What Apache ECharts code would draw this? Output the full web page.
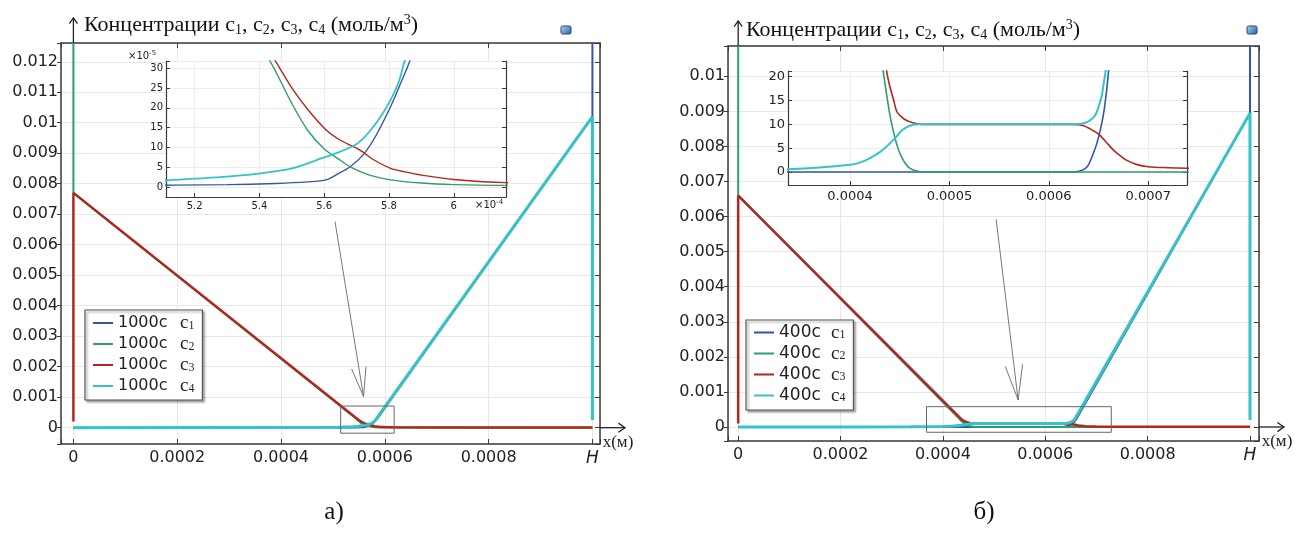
<!DOCTYPE html>
<html><head><meta charset="utf-8">
<script src="https://cdn.jsdelivr.net/npm/echarts@6/dist/echarts.min.js"></script>
<style>html,body{margin:0;padding:0;background:#fff}#c{width:1296px;height:539px}</style>
</head><body><div id="c"></div>
<script>
// ---------------- data (x in m, concentration in mol/m^3) ----------------
// panel a) t = 1000 s
const leftC1 = [[0,0],[0.0005,0.000004],[0.00053,0.000006],[0.000545,0.000009],[0.000555,0.000013],[0.0005606,0.000018],[0.000564,0.000032],[0.000568,0.000051],[0.000572,0.000081],[0.000576,0.00013],[0.0005805,0.000203],[0.0005835,0.00026],[0.0005865,0.00032],[0.001,0.0102],[0.001,0.05]];
const leftC2 = [[0,0.05],[0,0.0077],[0.0005431,0.00032],[0.00055,0.000211],[0.000555,0.000142],[0.00056,0.000096],[0.000564,0.000073],[0.000568,0.000051],[0.000574,0.00003],[0.0005805,0.000018],[0.00059,0.00001],[0.0006,0.000006],[0.000616,0.000004],[0.0007,0.000002],[0.001,0]];
const leftC3 = [[0,0.0002],[0,0.0077],[0.0005448,0.00032],[0.00055,0.00025],[0.000555,0.000195],[0.0005606,0.000144],[0.000565,0.000118],[0.0005695,0.0001],[0.000572,0.000088],[0.000575,0.00007],[0.0005805,0.000047],[0.000585,0.000038],[0.00059,0.00003],[0.0006,0.000019],[0.000616,0.000011],[0.0007,0.000005],[0.001,0.000002]];
const leftC4 = [[0,0],[0.0003,0.000007],[0.000511,0.000017],[0.00052,0.000021],[0.00053,0.000026],[0.000539,0.000033],[0.00055,0.000047],[0.0005606,0.0000765],[0.000564,0.000086],[0.0005695,0.000106],[0.000572,0.000122],[0.000575,0.00015],[0.000578,0.000185],[0.0005805,0.00022],[0.000583,0.000265],[0.0005849,0.00032],[0.001,0.0102],[0.001,0.00025]];
// panel б) t = 400 s
const rightC1 = [[0,0],[0.000625,0],[0.000633,0.000003],[0.000639,0.000012],[0.000644,0.000035],[0.000648,0.000058],[0.000652,0.00009],[0.000656,0.000135],[0.00066,0.00021],[0.001,0.00895],[0.001,0.05]];
const rightC2 = [[0,0.05],[0,0.0066],[0.0004335,0.00021],[0.000437,0.00016],[0.000441,0.00011],[0.0004453,0.000071],[0.00045,0.00004],[0.000455,0.00002],[0.00046,0.000008],[0.000467,0.000002],[0.000475,0],[0.001,0]];
const rightC3 = [[0,0.0001],[0,0.0066],[0.000437,0.00021],[0.00044,0.00018],[0.000444,0.00015],[0.000447,0.000127],[0.000452,0.000115],[0.000457,0.000108],[0.000464,0.000103],[0.000472,0.0001],[0.000625,0.0001],[0.000635,0.000097],[0.000642,0.00009],[0.000647,0.000084],[0.000651,0.000078],[0.000658,0.000062],[0.000665,0.000046],[0.000672,0.000034],[0.000678,0.000025],[0.000688,0.000016],[0.0007,0.000011],[0.00072,0.000009],[0.00074,0.000008],[0.0008,0.000006],[0.001,0.000004]];
const rightC4 = [[0,0],[0.0002,0.000002],[0.000337,0.000006],[0.0004,0.000015],[0.000415,0.000024],[0.000425,0.000035],[0.000435,0.00005],[0.0004453,0.000071],[0.000452,0.000087],[0.00046,0.000097],[0.00047,0.0001],[0.000628,0.0001],[0.000636,0.000103],[0.000642,0.000109],[0.000647,0.00012],[0.00065,0.000137],[0.000653,0.000158],[0.0006555,0.00019],[0.000657,0.00021],[0.001,0.00895],[0.001,0.0002]];

const seriesKeys = ['c1','c2','c3','c4'];
const legendPrefix = {L:'1000c', R:'400c'};
const mainXTickLabels = ['0','0.0002','0.0004','0.0006','0.0008','H'];
// annotation boxes / pointers (data coordinates of main plots)
const leftZoomBox = [[0.000515,0.00071],[0.000618,-0.00018]];
const leftPointer = [[0.000504,0.00676],[0.000559,0.00102]];
const rightZoomBox = [[0.000368,0.00058],[0.000729,-0.00015]];
const rightPointer = [[0.000504,0.00592],[0.000547,0.00077]];

// axis ranges
const LX=[-0.0000239,0.0010146], LY=[-0.000535,0.012615];
const LIX=[0.00051117,0.00061611], LIY=[-0.00002525,0.000318];
const RX=[-0.0000199,0.0010176], RY=[-0.000399,0.010864];
const RIX=[0.0003376,0.000739], RIY=[-0.0000273,0.000212];

const COL = {c1:'#3356a8', c2:'#2f9e6b', c3:'#b3261e', c4:'#35c3c8'};
const FRAME = '#3a3a3a', GRIDC = '#e8e8e8', TXT = '#222';

function onGrid(v, step){ const k=Math.round(v/step); return Math.abs(v-k*step) < step*1e-3 ? k : null; }
const fmtMainX = v => { const k=onGrid(v,0.0002); return (k===null||k<0||k>5)?'':(k===5?'{h|H}':mainXTickLabels[k]); };
const fmtMainY = v => { const k=onGrid(v,0.001); return (k===null||k<0)?'':String(+(k*0.001).toFixed(3)); };
const fmtLIX = v => { const k=onGrid(v,0.00002); return k===null?'':String(+(k*0.2).toFixed(1)); };
const fmtIY = v => { const k=onGrid(v,0.00005); return (k===null||k<0)?'':String(k*5); };
const fmtRIX = v => { const k=onGrid(v,0.0001); return k===null?'':String(+(k*0.0001).toFixed(4)); };

function xAx(grid, r, pos, labels, fmt, fs, opts){
  return Object.assign({type:'value', gridIndex:grid, min:r[0], max:r[1], position:pos, splitNumber:5,
    axisLine:{show:true,onZero:false,lineStyle:{color:FRAME,width:1.5}},
    axisTick:{show:true,inside:true,length:5,lineStyle:{color:FRAME,width:1}},
    axisLabel:{show:labels, margin:6, fontFamily:'DejaVu Sans', fontSize:fs, color:TXT, formatter:fmt,
      rich:{h:{fontFamily:'DejaVu Sans',fontStyle:'italic',fontSize:fs+1,color:TXT}}},
    splitLine:{show:labels, lineStyle:{color:GRIDC,width:1}}}, opts||{});
}
function yAx(grid, r, pos, labels, fmt, fs, split, opts){
  return Object.assign({type:'value', gridIndex:grid, min:r[0], max:r[1], position:pos, splitNumber:split,
    axisLine:{show:true,onZero:false,lineStyle:{color:FRAME,width:1.5}},
    axisTick:{show:true,inside:true,length:5,lineStyle:{color:FRAME,width:1}},
    axisLabel:{show:labels, margin:3, fontFamily:'DejaVu Sans', fontSize:fs, color:TXT, formatter:fmt},
    splitLine:{show:labels, lineStyle:{color:GRIDC,width:1}}}, opts||{});
}
const insetLine = {show:true,onZero:false,lineStyle:{color:FRAME,width:1.2}};
const insetTick = {show:true,inside:true,length:4,lineStyle:{color:FRAME}};
const insetSplit = {show:true,lineStyle:{color:'#ececec'}};
const xAxis = [
  xAx(0, LX, 'bottom', true, fmtMainX, 16),
  xAx(0, LX, 'top', false, null, 16),
  xAx(1, LIX, 'bottom', true, fmtLIX, 10, {z:6, axisLine:insetLine, axisTick:insetTick, axisLabel:{margin:4,fontFamily:'DejaVu Sans',fontSize:10,color:TXT,formatter:fmtLIX}, splitLine:insetSplit}),
  xAx(2, RX, 'bottom', true, fmtMainX, 16),
  xAx(2, RX, 'top', false, null, 16),
  xAx(3, RIX, 'bottom', true, fmtRIX, 13, {z:6, axisLine:insetLine, axisTick:insetTick, axisLabel:{margin:5,fontFamily:'DejaVu Sans',fontSize:13,color:TXT,formatter:fmtRIX}, splitLine:insetSplit})
];
const yAxis = [
  yAx(0, LY, 'left', true, fmtMainY, 16, 13, {axisTick:{show:true,inside:false,length:4,lineStyle:{color:FRAME}}}),
  yAx(0, LY, 'right', false, null, 16, 13),
  yAx(1, LIY, 'left', true, fmtIY, 10, 6, {z:6, axisLine:insetLine, axisTick:insetTick, axisLabel:{margin:3,fontFamily:'DejaVu Sans',fontSize:10,color:TXT,formatter:fmtIY}, splitLine:insetSplit}),
  yAx(1, LIY, 'right', false, null, 10, 6, {z:6, axisLine:insetLine, axisTick:insetTick}),
  yAx(2, RY, 'left', true, fmtMainY, 16, 11, {axisTick:{show:true,inside:false,length:4,lineStyle:{color:FRAME}}}),
  yAx(2, RY, 'right', false, null, 16, 11),
  yAx(3, RIY, 'left', true, fmtIY, 13, 5, {z:6, axisLine:insetLine, axisTick:insetTick, axisLabel:{margin:3,fontFamily:'DejaVu Sans',fontSize:13,color:TXT,formatter:fmtIY}, splitLine:insetSplit}),
  yAx(3, RIY, 'right', false, null, 13, 5, {z:6, axisLine:insetLine, axisTick:insetTick})
];

const series = [];
function addSet(prefix, sets, xi, yi, widths, z, smooth){
  sets.forEach((d,i)=>{
    series.push({type:'line', name:prefix+(i+1), data:d, xAxisIndex:xi, yAxisIndex:yi, symbol:'none', showSymbol:false,
      silent:true, animation:false, z:z, clip:true, smooth:smooth,
      lineStyle:{color:COL[seriesKeys[i]], width:widths[i]}, itemStyle:{color:COL[seriesKeys[i]]}});
  });
}
const leftSets=[leftC1,leftC2,leftC3,leftC4], rightSets=[rightC1,rightC2,rightC3,rightC4];
addSet('L', leftSets, 0, 0, [2,2,2.5,3], 2, false);
addSet('Li', leftSets, 2, 2, [1.4,1.4,1.4,1.8], 7, 0.3);
addSet('R', rightSets, 3, 4, [2,2,2.5,3], 2, false);
addSet('Ri', rightSets, 5, 6, [1.6,1.6,1.6,2], 7, 0.3);

function legendOf(prefix, left, top, nWidth, fs, lh){
  return {orient:'vertical', left:left, top:top, data:[1,2,3,4].map(i=>prefix+i), selectedMode:false,
    icon:'rect', itemWidth:20, itemHeight:2, itemGap:2, padding:[4,8,4,8], backgroundColor:'#fff',
    borderColor:'#555', borderWidth:1.2, shadowColor:'rgba(0,0,0,0.35)', shadowBlur:2, shadowOffsetX:2, shadowOffsetY:2,
    formatter: name => '{n|'+legendPrefix[prefix]+'}{c|c}{s|'+name.slice(prefix.length)+'}',
    textStyle:{rich:{
      n:{fontFamily:'DejaVu Sans', fontSize:fs, color:TXT, lineHeight:lh, width:nWidth},
      c:{fontFamily:'Liberation Serif', fontSize:19, color:TXT, lineHeight:lh-2, verticalAlign:'top'},
      s:{fontFamily:'Liberation Serif', fontSize:12, color:TXT, lineHeight:11, verticalAlign:'bottom'}}}};
}

const titleRich = {
  t:{fontFamily:'Liberation Serif', fontSize:22, fontWeight:'normal', color:'#111', lineHeight:24},
  s:{fontFamily:'Liberation Serif', fontSize:14, fontWeight:'normal', color:'#111', lineHeight:12, verticalAlign:'bottom'},
  p:{fontFamily:'Liberation Serif', fontSize:14, fontWeight:'normal', color:'#111', lineHeight:12, verticalAlign:'top'}};
const titleText = '{t|Концентрации c}{s|1}{t|, c}{s|2}{t|, c}{s|3}{t|, c}{s|4}{t| (моль/м}{p|3}{t|)}';
const expRich = {a:{fontFamily:'DejaVu Sans',fontSize:10,fontWeight:'normal',color:TXT,lineHeight:12}, b:{fontFamily:'DejaVu Sans',fontSize:7,fontWeight:'normal',color:TXT,lineHeight:7,verticalAlign:'top'}};

const option = {
  animation:false, backgroundColor:'#fff',
  title:[
    {left:84, top:13, padding:0, text:titleText, textStyle:{fontWeight:'normal', rich:titleRich}},
    {left:746, top:18, padding:0, text:titleText, textStyle:{fontWeight:'normal', rich:titleRich}},
    {left:128, top:50, padding:0, text:'{a|×10}{b|-5}', textStyle:{fontWeight:'normal', rich:expRich}},
    {left:475, top:199, padding:0, text:'{a|×10}{b|-4}', textStyle:{fontWeight:'normal', rich:expRich}}
  ],
  grid:[
    {left:61, top:43, width:539, height:401},
    {left:166, top:61, width:340, height:136, show:true, backgroundColor:'#fff', borderWidth:0, z:5},
    {left:728, top:46, width:531, height:395},
    {left:788, top:71, width:399, height:114, show:true, backgroundColor:'#fff', borderWidth:0, z:5}
  ],
  legend:[legendOf('L',85,310,62,16,18), legendOf('R',746,320,52,17,17)],
  xAxis:xAxis, yAxis:yAxis, series:series
};

const chart = echarts.init(document.getElementById('c'), null, {renderer:'canvas'});
chart.setOption(option);

// ---- annotations computed through the axes ----
function P(xi, yi, pt){ return chart.convertToPixel({xAxisIndex:xi, yAxisIndex:yi}, pt); }
function head(tip, from, len, angDeg){
  const dx=from[0]-tip[0], dy=from[1]-tip[1], d=Math.hypot(dx,dy), ux=dx/d, uy=dy/d, a=angDeg*Math.PI/180;
  const r=(c,s)=>[tip[0]+len*(ux*c-uy*s), tip[1]+len*(ux*s+uy*c)];
  return [r(Math.cos(a),Math.sin(a)), tip, r(Math.cos(a),-Math.sin(a))];
}
const g = [];
function line(pts, color, w, z){ g.push({type:'polyline', shape:{points:pts}, style:{stroke:color, lineWidth:w, fill:null}, z:z||100, silent:true}); }
[
  {xi:0, yi:0, xr:LX, yr:LY, box:leftZoomBox, ptr:leftPointer, hl:30, ha:14, icon:[561,26]},
  {xi:3, yi:4, xr:RX, yr:RY, box:rightZoomBox, ptr:rightPointer, hl:36, ha:14, icon:[1247,26]}
].forEach(p=>{
  const b = P(p.xi,p.yi,[0,p.yr[1]]); const t=[b[0], b[1]-25];
  line([b,t],'#222',1.3); line(head(t,b,7,35),'#222',1.3);
  const bx = P(p.xi,p.yi,[p.xr[1],0]); const tx=[bx[0]+25, bx[1]];
  line([bx,tx],'#222',1.3); line(head(tx,bx,8,35),'#222',1.3);
  g.push({type:'text', x:bx[0]+18, y:bx[1]+15, z:100, silent:true,
    style:{text:'x(м)', font:'17px "Liberation Serif"', fill:'#222', textAlign:'center', textVerticalAlign:'middle', align:'center', verticalAlign:'middle'}});
  const a1=P(p.xi,p.yi,p.box[0]), a2=P(p.xi,p.yi,p.box[1]);
  g.push({type:'rect', shape:{x:a1[0], y:a1[1], width:a2[0]-a1[0], height:a2[1]-a1[1]}, style:{fill:null, stroke:'#666', lineWidth:1}, z:100, silent:true});
  const s=P(p.xi,p.yi,p.ptr[0]), e=P(p.xi,p.yi,p.ptr[1]);
  line([s,e],'#777',1); line(head(e,s,p.hl,p.ha),'#777',1);
  g.push({type:'rect', shape:{x:p.icon[0], y:p.icon[1], width:10, height:8, r:1.5}, z:100, silent:true,
    style:{fill:new echarts.graphic.LinearGradient(0,0,1,1,[{offset:0,color:'#a9dcf5'},{offset:1,color:'#1d5ea8'}]), stroke:'#27436e', lineWidth:1}});
});
g.push({type:'text', x:334, y:512, z:100, silent:true, style:{text:'а)', font:'25px "Liberation Serif"', fill:'#111', textAlign:'center', textVerticalAlign:'middle', align:'center', verticalAlign:'middle'}});
g.push({type:'text', x:984, y:512, z:100, silent:true, style:{text:'б)', font:'25px "Liberation Serif"', fill:'#111', textAlign:'center', textVerticalAlign:'middle', align:'center', verticalAlign:'middle'}});
chart.setOption({graphic:g});
</script>
</body></html>
